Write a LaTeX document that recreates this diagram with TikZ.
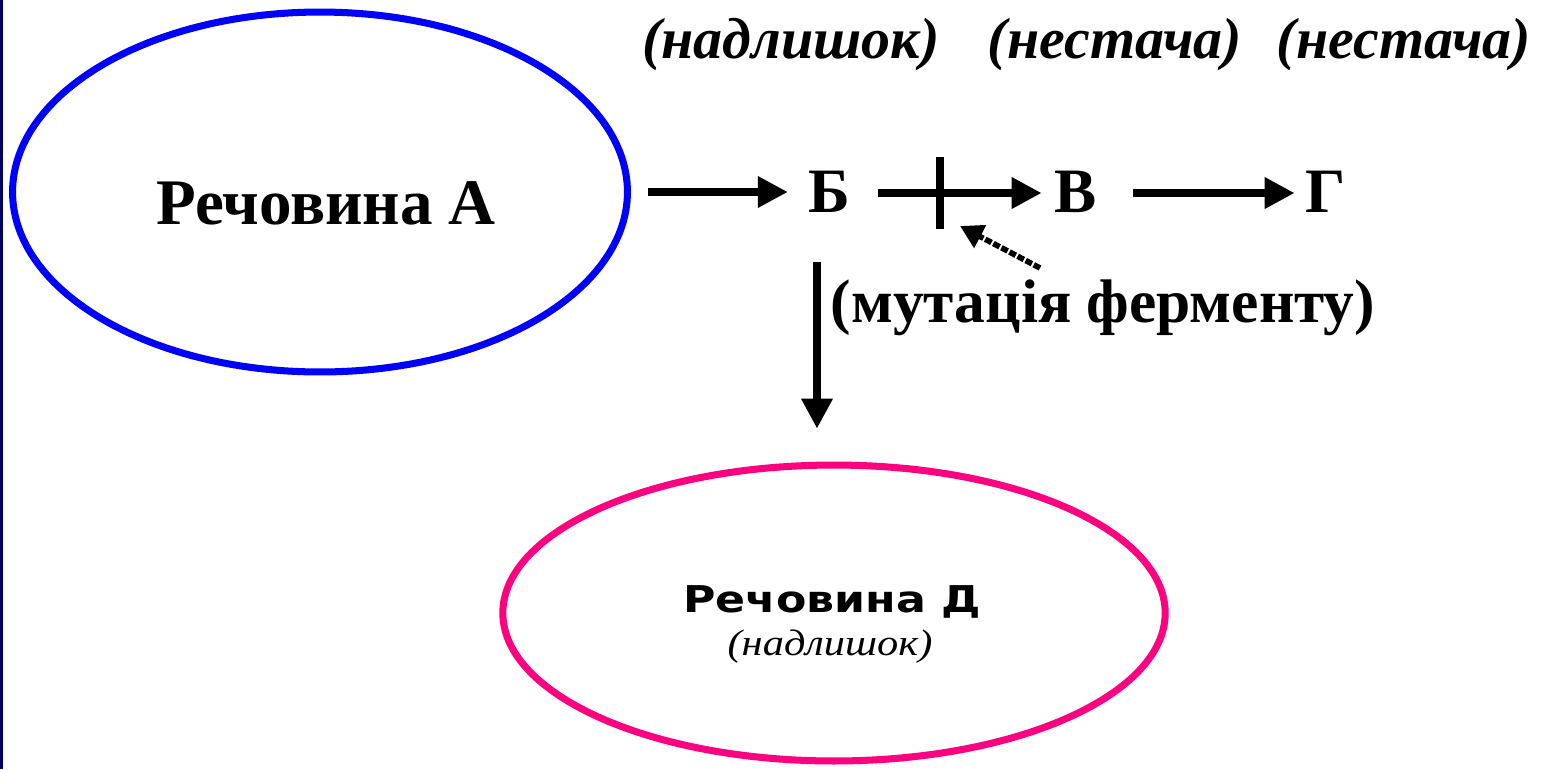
\documentclass[tikz,border=0pt]{standalone}
\usepackage{fontspec}
\setmainfont{Liberation Serif}
\newfontfamily\dvsans{DejaVu Sans}
\usetikzlibrary{arrows.meta,shapes.geometric}
\definecolor{navyedge}{RGB}{0,0,102}
\definecolor{ellblue}{RGB}{0,0,255}
\definecolor{ellpink}{RGB}{255,0,128}
\tikzset{
  px/.style={x=0.02cm,y=-0.02cm},
  flow/.style={line width=4pt,-{Triangle[length=17pt,width=17pt]}},
  mutarr/.style={line width=3.2pt,dash pattern=on 4pt off 1.2pt,-{Triangle[length=13pt,width=14pt]}},
  big/.style={inner sep=0pt,anchor=base,font=\fontsize{36}{40}\selectfont\bfseries},
  toplab/.style={inner sep=0pt,anchor=base,font=\fontsize{33}{36}\selectfont\bfseries\itshape},
  ell/.style={ellipse,draw,line width=4pt,inner sep=0pt}
}
\begin{document}
\begin{tikzpicture}[px]
\useasboundingbox (0,0) rectangle (1541,769);
\fill[white] (0,0) rectangle (1541,769);
\fill[navyedge] (0,0) rectangle (3,769);
% ellipses
\node[ell,draw=ellblue,minimum width=12.3cm,minimum height=7.2cm] (Aell) at (320,192) {};
\node[ell,draw=ellpink,minimum width=13.25cm,minimum height=5.92cm] (Dell) at (834,613) {};
% texts
\node[big,font=\fontsize{37}{40}\selectfont\bfseries] (A) at (326,224) {Речовина А};
\node[big] (B) at (829,212) {Б};
\node[big] (V) at (1076,212) {В};
\node[big] (G) at (1326,212) {Г};
\node[big,font=\fontsize{35}{38}\selectfont\bfseries] (mut) at (1103,322) {(мутація ферменту)};
\node[toplab] (t1) at (791,58) {(надлишок)};
\node[toplab] (t2) at (1115,58) {(нестача)};
\node[toplab] (t3) at (1404,58) {(нестача)};
\node[inner sep=0pt,anchor=base] (D) at (832,612) {\scalebox{1.2}[1]{\dvsans\bfseries\fontsize{21}{24}\selectfont Речовина Д}};
\node[inner sep=0pt,anchor=base] (Dsub) at (830,655) {\scalebox{1.15}[1]{\itshape\fontsize{21}{24}\selectfont (надлишок)}};
% connectors
\coordinate (cut) at (940,193);
\coordinate (mutsrc) at (1040,268);
\draw[flow] ([xshift=0.34cm]Aell.east) -- ([xshift=-0.4cm]B.west |- Aell.east);
\draw[flow] ([xshift=0.56cm]B.east |- cut) -- ([xshift=-0.26cm]V.west |- cut);
\draw[flow] ([xshift=0.72cm]V.east |- cut) -- ([xshift=-0.22cm]G.west |- cut);
\draw[line width=4pt] ([yshift=0.72cm]cut) -- ([yshift=-0.72cm]cut);
\draw[flow] ([xshift=-0.24cm,yshift=-1cm]B.south) -- ([xshift=-0.24cm,yshift=0.66cm]B.south |- Dell.north);
\draw[mutarr] (mutsrc) -- ([xshift=0.4cm,yshift=-0.66cm]cut);
\end{tikzpicture}
\end{document}
